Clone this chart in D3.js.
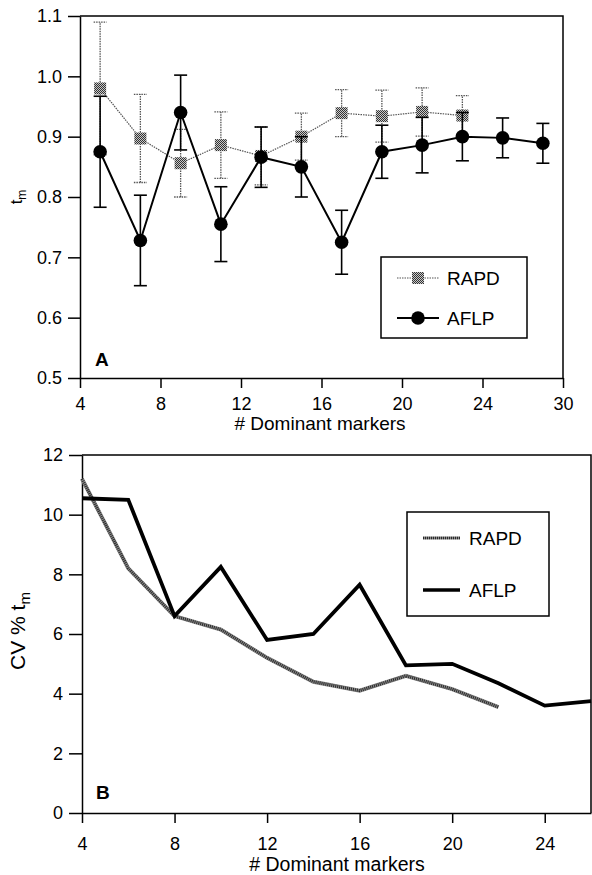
<html>
<head>
<title>tm vs dominant markers</title>
<script src="https://d3js.org/d3.v7.min.js"></script>
<style>
  body { margin: 0; background: white; }
  text { font-family: "Liberation Sans", Arial, sans-serif; fill: black; }
  .axis path, .axis line { stroke: black; stroke-width: 1.5; }
  .axis text { font-size: 18px; }
</style>
</head>
<body>
<svg id="chart" width="592" height="875"></svg>
<script>
// ---- panel A data (t_m with error bars) ----
var topX = [5, 7, 9, 11, 13, 15, 17, 19, 21, 23, 25, 27];
var rapdTm  = [0.980, 0.897, 0.856, 0.886, 0.868, 0.900, 0.939, 0.934, 0.941, 0.935];
var rapdErr = [0.110, 0.073, 0.056, 0.055, 0.048, 0.039, 0.039, 0.043, 0.040, 0.033];
var aflpTm  = [0.875, 0.728, 0.940, 0.755, 0.866, 0.850, 0.725, 0.875, 0.886, 0.900, 0.898, 0.889];
var aflpErr = [0.092, 0.075, 0.062, 0.062, 0.050, 0.050, 0.053, 0.044, 0.046, 0.040, 0.033, 0.033];
var topXTicks  = [4, 8, 12, 16, 20, 24, 28];
var topXLabels = ["4", "8", "12", "16", "20", "24", "30"];
var topYTicks  = [0.5, 0.6, 0.7, 0.8, 0.9, 1.0, 1.1];

// ---- panel B data (CV % t_m) ----
var cvX = [4, 6, 8, 10, 12, 14, 16, 18, 20, 22, 24, 26];
var rapdCv = [11.2, 8.2, 6.6, 6.15, 5.2, 4.4, 4.1, 4.6, 4.15, 3.55];
var aflpCv = [10.55, 10.5, 6.6, 8.25, 5.8, 6.0, 7.65, 4.95, 5.0, 4.35, 3.6, 3.75];
var botXTicks = [4, 8, 12, 16, 20, 24];
var botYTicks = [0, 2, 4, 6, 8, 10, 12];

var svg = d3.select("#chart");

// checkered fill for RAPD squares
var defs = svg.append("defs");
var pat = defs.append("pattern").attr("id", "checker")
  .attr("width", 2).attr("height", 2).attr("patternUnits", "userSpaceOnUse");
pat.append("rect").attr("width", 2).attr("height", 2).attr("fill", "#c8c8c8");
pat.append("rect").attr("width", 1).attr("height", 1).attr("fill", "#333");
pat.append("rect").attr("x", 1).attr("y", 1).attr("width", 1).attr("height", 1).attr("fill", "#333");

// ================= panel A =================
var xA = d3.scaleLinear().domain([4, 28]).range([80, 563]);
var yA = d3.scaleLinear().domain([0.5, 1.1]).range([378, 16]);
var gA = svg.append("g");

// frame
gA.append("path")
  .attr("d", "M" + xA(4) + "," + yA(1.1) + "H" + xA(28) + "V" + yA(0.5))
  .attr("fill", "none").attr("stroke", "black").attr("stroke-width", 1.5);

gA.append("g").attr("class", "axis")
  .attr("transform", "translate(0," + yA(0.5) + ")")
  .call(d3.axisBottom(xA).tickValues(topXTicks).tickSize(10).tickPadding(9).tickSizeOuter(0)
    .tickFormat(function (d, i) { return topXLabels[i]; }));
gA.append("g").attr("class", "axis")
  .attr("transform", "translate(" + xA(4) + ",0)")
  .call(d3.axisLeft(yA).tickValues(topYTicks).tickSize(12).tickPadding(6).tickSizeOuter(0)
    .tickFormat(d3.format(".1f")));

var rapdPts = rapdTm.map(function (v, i) { return { x: topX[i], y: v, e: rapdErr[i] }; });
var aflpPts = aflpTm.map(function (v, i) { return { x: topX[i], y: v, e: aflpErr[i] }; });

function errorBars(g, pts, color, width, dash) {
  var eb = g.append("g").attr("stroke", color).attr("stroke-width", width)
    .attr("stroke-dasharray", dash).attr("fill", "none");
  pts.forEach(function (p) {
    eb.append("line").attr("x1", xA(p.x)).attr("x2", xA(p.x))
      .attr("y1", yA(p.y - p.e)).attr("y2", yA(p.y + p.e));
    eb.append("line").attr("x1", xA(p.x) - 6.5).attr("x2", xA(p.x) + 6.5)
      .attr("y1", yA(p.y - p.e)).attr("y2", yA(p.y - p.e));
    eb.append("line").attr("x1", xA(p.x) - 6.5).attr("x2", xA(p.x) + 6.5)
      .attr("y1", yA(p.y + p.e)).attr("y2", yA(p.y + p.e));
  });
}

var lineA = d3.line().x(function (d) { return xA(d.x); }).y(function (d) { return yA(d.y); });

// RAPD: dotted grey with checkered squares
errorBars(gA, rapdPts, "#555", 1.3, "1.5,1");
gA.append("path").datum(rapdPts).attr("d", lineA)
  .attr("fill", "none").attr("stroke", "#555").attr("stroke-width", 1.2).attr("stroke-dasharray", "1.5,1");
gA.selectAll(".sq").data(rapdPts).enter().append("rect")
  .attr("x", function (d) { return xA(d.x) - 6; })
  .attr("y", function (d) { return yA(d.y) - 6; })
  .attr("width", 12).attr("height", 12).attr("fill", "url(#checker)");

// AFLP: solid black with dots
errorBars(gA, aflpPts, "black", 1.6, null);
gA.append("path").datum(aflpPts).attr("d", lineA)
  .attr("fill", "none").attr("stroke", "black").attr("stroke-width", 2);
gA.selectAll(".dot").data(aflpPts).enter().append("circle")
  .attr("cx", function (d) { return xA(d.x); })
  .attr("cy", function (d) { return yA(d.y); })
  .attr("r", 6.8).attr("fill", "black");

// labels
gA.append("text").attr("x", 95).attr("y", 366).style("font-weight", "bold").style("font-size", "19px").text("A");
gA.append("text").attr("x", 320).attr("y", 430).attr("text-anchor", "middle").style("font-size", "19px")
  .text("# Dominant markers");
var tmA = gA.append("text").attr("transform", "translate(22,197) rotate(-90)")
  .attr("text-anchor", "middle").style("font-size", "17px");
tmA.append("tspan").text("t");
tmA.append("tspan").attr("dy", 4).style("font-size", "12px").text("m");

// legend A
gA.append("rect").attr("x", 381).attr("y", 257).attr("width", 146).attr("height", 81)
  .attr("fill", "white").attr("stroke", "black").attr("stroke-width", 1.5);
gA.append("line").attr("x1", 397).attr("x2", 439).attr("y1", 278).attr("y2", 278)
  .attr("stroke", "#555").attr("stroke-width", 1.2).attr("stroke-dasharray", "1.5,1");
gA.append("rect").attr("x", 412).attr("y", 272).attr("width", 12).attr("height", 12).attr("fill", "url(#checker)");
gA.append("text").attr("x", 447).attr("y", 285).style("font-size", "19px").text("RAPD");
gA.append("line").attr("x1", 397).attr("x2", 439).attr("y1", 318).attr("y2", 318)
  .attr("stroke", "black").attr("stroke-width", 2);
gA.append("circle").attr("cx", 418).attr("cy", 318).attr("r", 6.8).attr("fill", "black");
gA.append("text").attr("x", 447).attr("y", 325).style("font-size", "19px").text("AFLP");

// ================= panel B =================
var xB = d3.scaleLinear().domain([4, 26]).range([82, 591]);
var yB = d3.scaleLinear().domain([0, 12]).range([813, 455]);
var gB = svg.append("g");

gB.append("path")
  .attr("d", "M" + xB(4) + "," + yB(12) + "H" + xB(26) + "V" + yB(0))
  .attr("fill", "none").attr("stroke", "black").attr("stroke-width", 1.5);

gB.append("g").attr("class", "axis")
  .attr("transform", "translate(0," + yB(0) + ")")
  .call(d3.axisBottom(xB).tickValues(botXTicks).tickSize(10).tickPadding(14).tickSizeOuter(0));
gB.append("g").attr("class", "axis")
  .attr("transform", "translate(" + xB(4) + ",0)")
  .call(d3.axisLeft(yB).tickValues(botYTicks).tickSize(13).tickPadding(6).tickSizeOuter(0));

var lineB = d3.line().x(function (d) { return xB(d.x); }).y(function (d) { return yB(d.y); });
var rapdB = rapdCv.map(function (v, i) { return { x: cvX[i], y: v }; });
var aflpB = aflpCv.map(function (v, i) { return { x: cvX[i], y: v }; });

// textured grey RAPD line
gB.append("path").datum(rapdB).attr("d", lineB)
  .attr("fill", "none").attr("stroke", "#8a8a8a").attr("stroke-width", 4);
gB.append("path").datum(rapdB).attr("d", lineB)
  .attr("fill", "none").attr("stroke", "#2a2a2a").attr("stroke-width", 3.2).attr("stroke-dasharray", "1,1");
gB.append("path").datum(aflpB).attr("d", lineB)
  .attr("fill", "none").attr("stroke", "black").attr("stroke-width", 3.8).attr("stroke-linejoin", "miter");

gB.append("text").attr("x", 96).attr("y", 799).style("font-weight", "bold").style("font-size", "19px").text("B");
gB.append("text").attr("x", 337).attr("y", 871).attr("text-anchor", "middle").style("font-size", "19.5px")
  .text("# Dominant markers");
var tmB = gB.append("text").attr("transform", "translate(25,631) rotate(-90)")
  .attr("text-anchor", "middle").style("font-size", "21px");
tmB.append("tspan").text("CV % t");
tmB.append("tspan").attr("dy", 5).style("font-size", "15px").text("m");

// legend B
gB.append("rect").attr("x", 407).attr("y", 512).attr("width", 142).attr("height", 104)
  .attr("fill", "white").attr("stroke", "black").attr("stroke-width", 1.5);
gB.append("line").attr("x1", 423).attr("x2", 460).attr("y1", 538).attr("y2", 538)
  .attr("stroke", "#8a8a8a").attr("stroke-width", 3);
gB.append("line").attr("x1", 423).attr("x2", 460).attr("y1", 538).attr("y2", 538)
  .attr("stroke", "#2a2a2a").attr("stroke-width", 2.5).attr("stroke-dasharray", "1,1");
gB.append("text").attr("x", 469).attr("y", 545).style("font-size", "19px").text("RAPD");
gB.append("line").attr("x1", 423).attr("x2", 460).attr("y1", 590).attr("y2", 590)
  .attr("stroke", "black").attr("stroke-width", 3.5);
gB.append("text").attr("x", 469).attr("y", 597).style("font-size", "19px").text("AFLP");
</script>
</body>
</html>
